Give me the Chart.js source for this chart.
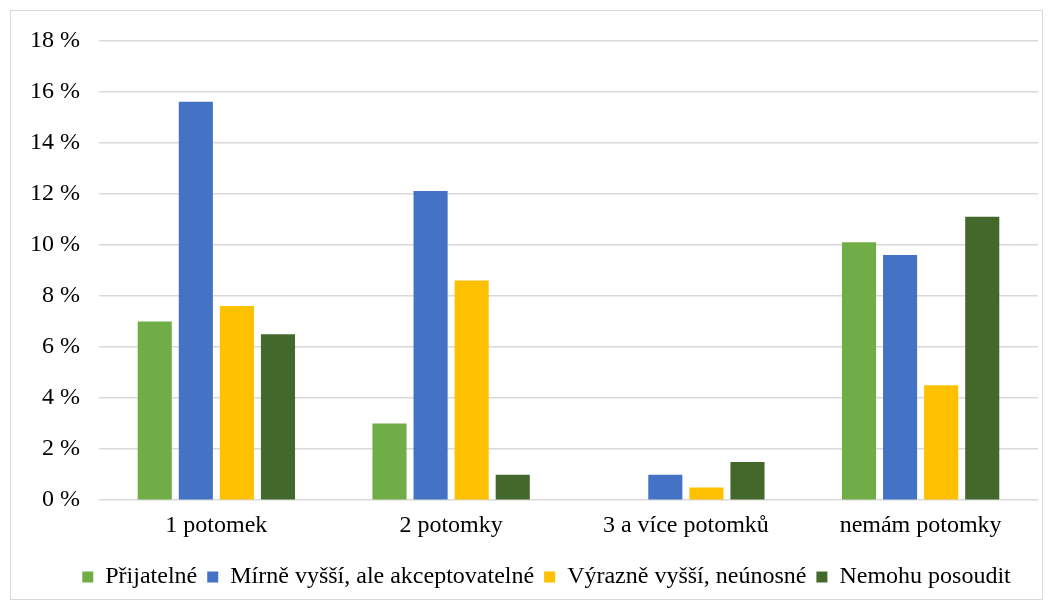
<!DOCTYPE html>
<html>
<head>
<meta charset="utf-8">
<script src="https://cdn.jsdelivr.net/npm/chart.js@4/dist/chart.umd.min.js"></script>
<style>
  html, body { margin: 0; padding: 0; background: #fff; }
  #wrap {
    position: absolute;
    left: 10px; top: 10px;
    width: 1031px; height: 588px;
    border: 1.5px solid #d9d9d9;
    background: #fff;
  }
</style>
</head>
<body>
<div id="wrap"><canvas id="chart"></canvas></div>
<script>
// Categories and series (percent)
const categories = ['1 potomek', '2 potomky', '3 a více potomků', 'nemám potomky']
const seriesNames = ['Přijatelné', 'Mírně vyšší, ale akceptovatelné', 'Výrazně vyšší, neúnosné', 'Nemohu posoudit']
const prijatelne = [7.0, 3.0, 0, 10.1]
const mirneVyssi = [15.6, 12.1, 1.0, 9.6]
const vyrazneVyssi = [7.6, 8.6, 0.5, 4.5]
const nemohuPosoudit = [6.5, 1.0, 1.5, 11.1]
const colors = ['#70ad47', '#4472c4', '#ffc000', '#43682b']

const font = { family: "'Liberation Serif', 'Times New Roman', serif", size: 24 }

const datasets = [prijatelne, mirneVyssi, vyrazneVyssi, nemohuPosoudit].map((data, i) => ({
  label: seriesNames[i],
  data,
  backgroundColor: colors[i],
  borderWidth: 0,
  categoryPercentage: 0.7,
  barPercentage: 0.83
}))

// the legend in the original sits a bit right of centre
const legendShift = {
  id: 'legendShift',
  afterLayout(chart) {
    chart.legend.left += 44
  }
}

new Chart(document.getElementById('chart'), {
  type: 'bar',
  data: { labels: categories, datasets },
  plugins: [legendShift],
  options: {
    responsive: true,
    maintainAspectRatio: false,
    animation: false,
    layout: { padding: { top: 5, right: 4, left: 0, bottom: 0 } },
    plugins: {
      tooltip: { enabled: false },
      legend: {
        position: 'bottom',
        labels: {
          color: '#000',
          font,
          boxWidth: 11,
          boxHeight: 11,
          padding: 10
        }
      }
    },
    scales: {
      x: {
        grid: { display: false },
        border: { display: false },
        ticks: { color: '#000', font, padding: 3 },
        // extra room between the category labels and the legend
        afterFit: scale => { scale.height += 12 }
      },
      y: {
        min: 0,
        max: 18,
        ticks: {
          stepSize: 2,
          color: '#000',
          font,
          padding: 19,
          callback: v => v + ' %'
        },
        grid: { color: '#d9d9d9', lineWidth: 1.5, drawTicks: false },
        border: { display: false },
        // pull the top of the plot up a little
        afterFit: scale => { scale.paddingTop = Math.max(0, scale.paddingTop - 4) }
      }
    }
  }
})
</script>
</body>
</html>
